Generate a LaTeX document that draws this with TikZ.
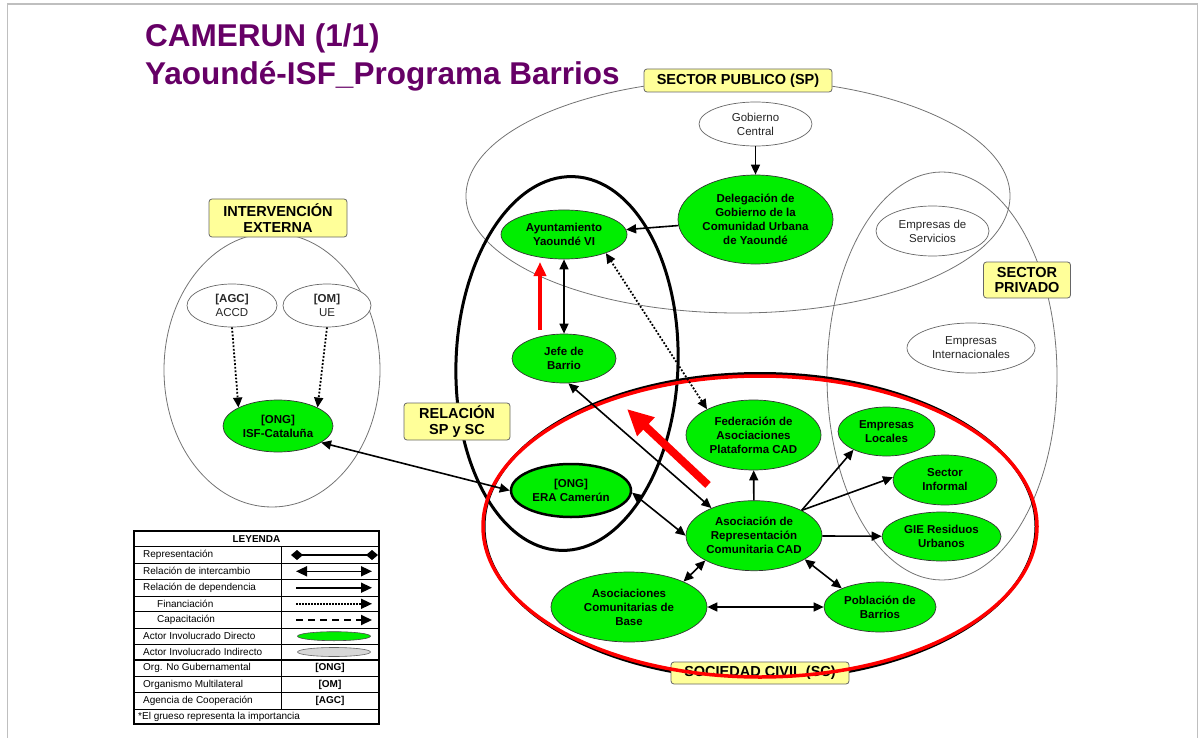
\documentclass[tikz,border=0pt]{standalone}
\usepackage{fontspec}
\setmainfont{Liberation Sans}
\usetikzlibrary{arrows.meta, shapes.geometric, positioning}
\definecolor{titlepurple}{RGB}{102,0,102}
\definecolor{actorgreen}{RGB}{0,238,0}
\definecolor{tagyellow}{RGB}{255,255,153}
\definecolor{legendgray}{RGB}{215,215,215}

\tikzset{
  actor/.style={ellipse, draw=black!80, line width=0.7pt, fill=actorgreen,
    inner sep=0pt, align=center, font=\fontsize{11.5}{14}\selectfont\bfseries},
  extactor/.style={ellipse, draw=black!60, line width=0.7pt, fill=white,
    inner sep=0pt, align=center, text=black!85, font=\fontsize{11.5}{14}\selectfont},
  tagbox/.style={rectangle, rounded corners=3pt, draw=black!60, line width=0.8pt,
    fill=tagyellow, inner sep=0pt, align=center, font=\fontsize{14.5}{15.5}\selectfont\bfseries},
  sectorline/.style={draw=black!55, line width=0.8pt},
  dep/.style={-{Triangle[length=10pt,width=9pt]}, line width=1.6pt},
  xchg/.style={{Triangle[length=10pt,width=9pt]}-{Triangle[length=10pt,width=9pt]}, line width=1.6pt},
  fund/.style={-{Triangle[length=10pt,width=9pt]}, line width=1.8pt, dash pattern=on 1.8pt off 1.8pt},
  fundx/.style={{Triangle[length=10pt,width=9pt]}-{Triangle[length=10pt,width=9pt]}, line width=1.8pt, dash pattern=on 1.8pt off 1.8pt},
  redarrow/.style={red, line width=4pt, -{Triangle[length=14pt,width=12pt]}},
  legtxt/.style={anchor=west, inner sep=0pt, font=\fontsize{10}{12}\selectfont},
  legtag/.style={inner sep=0pt, font=\fontsize{10}{12}\selectfont\bfseries}
}

\begin{document}
\begin{tikzpicture}[x=1pt, y=-1pt]
\useasboundingbox (0,0) rectangle (1199,738);
% page frame
\draw[black!25, line width=1.2pt] (7.5,738) -- (7.5,4) -- (1197.5,4) -- (1197.5,738);

% title
\node[anchor=base west, inner sep=0pt, text=titlepurple, font=\fontsize{31.5}{37}\selectfont\bfseries] (title1) at (145,47) {CAMERUN (1/1)};
\node[anchor=base west, inner sep=0pt, text=titlepurple, font=\fontsize{31.5}{37}\selectfont\bfseries] (title2) at (145,85) {Yaoundé-ISF\_Programa Barrios};

% sectors
\draw[sectorline] (738,196) ellipse (272 and 117);
\draw[sectorline] (942,376) ellipse (115 and 204);
\draw[sectorline] (272,370) ellipse (108 and 137);
\draw[line width=3pt, rotate around={-2:(567,363.5)}] (567,363.5) ellipse (111 and 187);

% sociedad civil
\draw[line width=3pt] (760,526.5) ellipse (276 and 153);
\node[tagbox, minimum width=178pt, minimum height=22pt] (tagsc) at (760,673) {SOCIEDAD CIVIL (SC)};
\draw[red, line width=3.5pt] (760,526.5) ellipse (277 and 150.5);

% actors
\node[extactor, minimum width=113pt, minimum height=44pt] (gob) at (755.5,124) {Gobierno\\Central};
\node[actor, minimum width=155pt, minimum height=89pt] (dele) at (755.5,219.5) {Delegación de\\Gobierno de la\\Comunidad Urbana\\de Yaoundé};
\node[actor, minimum width=126pt, minimum height=49pt] (ayto) at (564,234.5) {Ayuntamiento\\Yaoundé VI};
\node[actor, minimum width=104pt, minimum height=49pt] (jefe) at (564,358.5) {Jefe de\\Barrio};
\node[extactor, minimum width=113pt, minimum height=50pt] (empserv) at (932.5,231) {Empresas de\\Servicios};
\node[extactor, minimum width=128pt, minimum height=50pt] (empint) at (971,348) {Empresas\\Internacionales};
\node[extactor, minimum width=90pt, minimum height=43pt] (agc) at (232,305.5) {\textbf{[AGC]}\\ACCD};
\node[extactor, minimum width=88pt, minimum height=43pt] (om) at (327,305.5) {\textbf{[OM]}\\UE};
\node[actor, minimum width=110pt, minimum height=52pt] (isf) at (278,426) {[ONG]\\ISF-Cataluña};
\node[actor, draw=black, line width=2.5pt, minimum width=120pt, minimum height=53pt] (era) at (571,490.5) {[ONG]\\ERA Camerún};
\node[actor, minimum width=135pt, minimum height=70pt] (fed) at (753.5,435) {Federación de\\Asociaciones\\Plataforma CAD};
\node[actor, minimum width=136pt, minimum height=70pt] (cad) at (754,535.7) {Asociación de\\Representación\\Comunitaria CAD};
\node[actor, minimum width=156pt, minimum height=70pt] (base) at (629,607) {Asociaciones\\Comunitarias de\\Base};
\node[actor, minimum width=112pt, minimum height=50pt] (pob) at (880,607) {Población de\\Barrios};
\node[actor, minimum width=97pt, minimum height=49pt] (emploc) at (886.5,431.5) {Empresas\\Locales};
\node[actor, minimum width=104pt, minimum height=50pt] (secinf) at (945,480) {Sector\\Informal};
\node[actor, minimum width=119pt, minimum height=49pt] (gie) at (941.5,536.5) {GIE Residuos\\Urbanos};

% relations
\draw[dep] (gob) -- (dele);
\draw[dep] (dele) -- (ayto);
\draw[xchg] (ayto) -- (jefe);
\draw[fundx] (fed.151) -- (ayto.-24);
\draw[xchg] (jefe.-80) -- (cad.147);
\draw[xchg] (isf.-21) -- (era.180);
\draw[xchg] (era.-2) -- (cad.180);
\draw[dep] (cad) -- (fed);
\draw[dep] (cad.28) -- (emploc.209);
\draw[dep] (cad.28) -- (secinf.177);
\draw[dep] (cad) -- (gie);
\draw[xchg] (cad.-25) -- (pob.154);
\draw[xchg] (cad.207) -- (base.25);
\draw[xchg] (base) -- (pob);
\draw[fund] (agc.-90) -- (isf.155);
\draw[fund] (om.-90) -- (isf.25);

% sector tags
\node[tagbox, minimum width=188pt, minimum height=23pt] (tagsp) at (738,80.5) {SECTOR PUBLICO (SP)};
\node[tagbox, minimum width=138pt, minimum height=38pt] (tagext) at (278,218) {INTERVENCIÓN\\EXTERNA};
\node[tagbox, minimum width=87pt, minimum height=36pt] (tagpriv) at (1027,280) {SECTOR\\PRIVADO};
\node[tagbox, minimum width=106pt, minimum height=37pt] (tagrel) at (457,421.5) {RELACIÓN\\SP y SC};

% importance arrows
\coordinate (redlow) at (540,330);
\coordinate (redtop) at (540,262);
\draw[redarrow] (redlow) -- (redtop);
\coordinate (bigtail) at (708,485);
\coordinate (bighead) at (627,409);
\draw[red, line width=8pt, -{Triangle[length=26pt,width=24pt]}] (bigtail) -- (bighead);

% legend
\draw[line width=1.6pt, fill=white] (134,531) rectangle (379,724);
\draw[line width=1.3pt] (134,546.7) -- (379,546.7);
\draw[line width=1.3pt] (134,579.3) -- (379,579.3);
\draw[line width=1.3pt] (134,628.3) -- (379,628.3);
\draw[line width=1.3pt] (134,660) -- (379,660);
\draw[line width=1.3pt] (134,709.3) -- (379,709.3);
\draw[line width=0.8pt] (134,563.3) -- (379,563.3);
\draw[line width=0.8pt] (134,596) -- (379,596);
\draw[line width=0.8pt] (134,611.7) -- (379,611.7);
\draw[line width=0.8pt] (134,644) -- (379,644);
\draw[line width=0.8pt] (134,676.7) -- (379,676.7);
\draw[line width=0.8pt] (134,692.7) -- (379,692.7);
\draw[line width=0.8pt] (281.7,546.7) -- (281.7,709.3);
\node[legtag] (legtitle) at (256.5,538.8) {LEYENDA};
\node[legtxt] (legrep) at (143,555) {Representación};
\node[legtxt] (legxchg) at (143,571.3) {Relación de intercambio};
\node[legtxt] (legdep) at (143,587.7) {Relación de dependencia};
\node[legtxt] (legfund) at (157,603.8) {Financiación};
\node[legtxt] (legcap) at (157,620) {Capacitación};
\node[legtxt] (legdir) at (143,636.2) {Actor Involucrado Directo};
\node[legtxt] (legind) at (143,652) {Actor Involucrado Indirecto};
\node[legtxt] (legong) at (143,668.3) {Org. No Gubernamental};
\node[legtxt] (legom) at (143,684.7) {Organismo Multilateral};
\node[legtxt] (legagc) at (143,701) {Agencia de Cooperación};
\node[legtxt] (legnote) at (138,716.7) {*El grueso representa la importancia};
\draw[line width=1.5pt, {Diamond[length=12pt,width=10pt]}-{Diamond[length=12pt,width=10pt]}] (291,555) -- (378,555);
\draw[line width=1.6pt, {Triangle[length=11pt,width=10pt]}-{Triangle[length=11pt,width=10pt]}] (296,571.3) -- (372,571.3);
\draw[line width=1.6pt, -{Triangle[length=11pt,width=10pt]}] (296,587.7) -- (372,587.7);
\draw[line width=1.5pt, dash pattern=on 1.5pt off 1.5pt, -{Triangle[length=11pt,width=10pt]}] (296,603.8) -- (372,603.8);
\draw[line width=2pt, dash pattern=on 7pt off 5pt, -{Triangle[length=11pt,width=10pt]}] (296,620) -- (372,620);
\draw[fill=actorgreen, draw=black!70, line width=0.6pt] (334,636.2) ellipse (36.5 and 4.5);
\draw[fill=legendgray, draw=black!60, line width=0.6pt] (334,652) ellipse (36.5 and 4.5);
\node[legtag] (tagong) at (330,668.3) {[ONG]};
\node[legtag] (tagom) at (330,684.7) {[OM]};
\node[legtag] (tagagc) at (330,701) {[AGC]};
\end{tikzpicture}
\end{document}
